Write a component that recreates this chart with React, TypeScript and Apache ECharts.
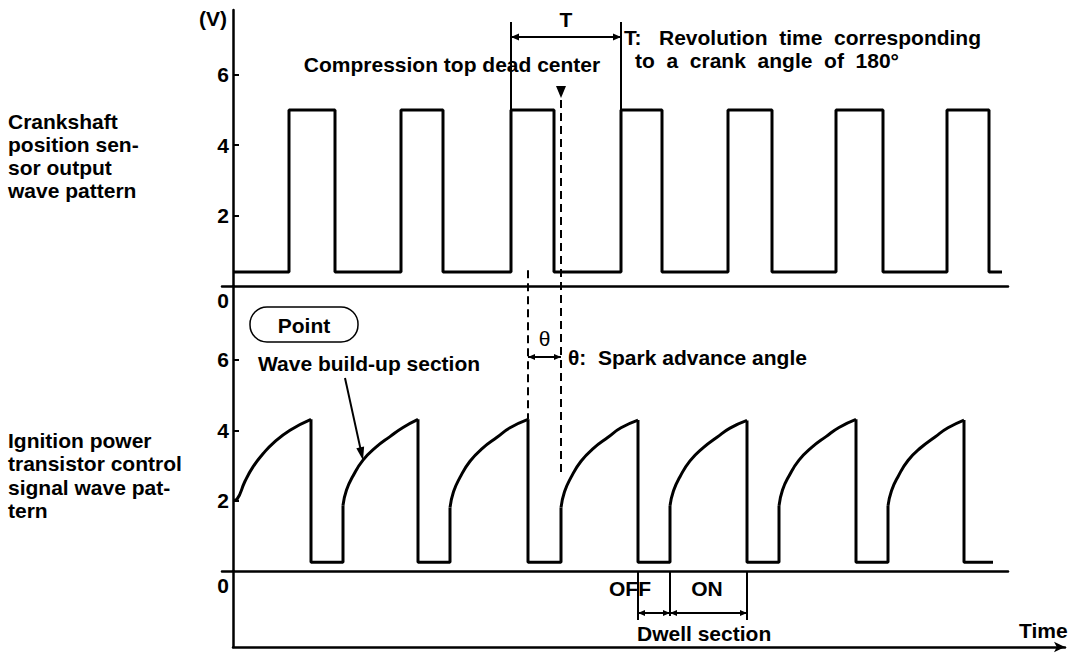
import React, { useEffect, useRef } from "react";
import * as echarts from "echarts";

// ---- Data (time in arbitrary units, volts) ----
const crankRiseT = [56, 168, 278, 388, 495, 603, 714];
const crankFallT = [102, 210, 321, 429, 539, 650, 756];
const crankEndT = 769;
const crankHighV = 5.0;
const crankLowV = 0.4;

const ignDropT = [78, 185, 295, 405, 514, 623, 731];
const ignRiseT = [110, 217, 328, 437, 546, 655];
const ignEndT = 760;
const ignLowV = 0.25;

const rampT = [
  [0, 4, 12, 20, 30, 40, 57, 78],
  [110, 113.5, 120, 130, 143, 157, 170, 185],
  [217, 220.5, 227, 237, 250, 264, 277, 295],
  [328, 331.5, 338, 348, 361, 375, 388, 405],
  [437, 440.5, 447, 457, 470, 484, 497, 514],
  [546, 549.5, 556, 566, 579, 593, 606, 623],
  [655, 658.5, 665, 675, 688, 702, 715, 731],
];
const rampV = [
  [2.0, 2.04, 2.55, 2.96, 3.33, 3.63, 4.0, 4.31],
  [1.87, 2.3, 2.7, 3.15, 3.52, 3.82, 4.08, 4.31],
  [1.8, 2.25, 2.66, 3.12, 3.5, 3.8, 4.07, 4.31],
  [1.8, 2.25, 2.66, 3.12, 3.5, 3.8, 4.07, 4.29],
  [1.85, 2.28, 2.68, 3.13, 3.5, 3.8, 4.06, 4.28],
  [1.85, 2.3, 2.7, 3.15, 3.52, 3.82, 4.08, 4.31],
  [1.85, 2.28, 2.68, 3.14, 3.51, 3.81, 4.07, 4.29],
];

const yLabelValues = [0, 2, 4, 6];
const yTickValues = [2, 4, 6];
const tdcT = 328; // compression top dead center
const dashTopV = 0.45;
const tdcDashEndV = 2.67;
const arrowTipT = 130;
const arrowTipV = 3.15;

const FONT = "Liberation Sans";
const BLACK = "#000";

function buildCrank() {
  const pts: number[][] = [[0, crankLowV]];
  crankRiseT.forEach((r, i) => {
    pts.push([r, crankLowV], [r, crankHighV], [crankFallT[i], crankHighV], [crankFallT[i], crankLowV]);
  });
  pts.push([crankEndT, crankLowV]);
  return pts;
}

function buildEdges() {
  return ignDropT.map((d, i) => {
    const peak = rampV[i][rampV[i].length - 1];
    const seg: number[][] = [[d, peak], [d, ignLowV]];
    if (i < ignRiseT.length) {
      seg.push([ignRiseT[i], ignLowV], [ignRiseT[i], rampV[i + 1][0]]);
    } else {
      seg.push([ignEndT, ignLowV]);
    }
    return seg;
  });
}

const labelStyle = { fontSize: 21, fontWeight: "bold" as const, fontFamily: FONT, color: BLACK };

function yAxisFor(grid: number, max: number, withName: boolean) {
  const ax: any = {
    gridIndex: grid,
    type: "value",
    min: 0,
    max,
    position: "left",
    offset: -11,
    axisLine: { show: true, onZero: false, lineStyle: { color: BLACK, width: 2.5 } },
    axisTick: { show: true, inside: true, length: 6, customValues: yTickValues, lineStyle: { color: BLACK, width: 2 } },
    axisLabel: {
      show: true,
      customValues: yLabelValues,
      margin: 4,
      formatter: (v: number) => (v === 0 ? "{z|0}" : "{n|" + v + "}"),
      rich: {
        z: { ...labelStyle, padding: [28, 0, 0, 0] },
        n: { ...labelStyle },
      },
    },
    splitLine: { show: false },
  };
  if (withName) {
    ax.name = "(V)";
    ax.nameLocation = "end";
    ax.nameGap = -8;
    ax.nameTextStyle = { ...labelStyle, align: "right", verticalAlign: "middle", padding: [0, 6, 0, 0] };
  }
  return ax;
}

function xAxisPlain(grid: number) {
  return {
    gridIndex: grid,
    type: "value",
    min: -11,
    max: 775,
    axisLine: { show: true, onZero: false, lineStyle: { color: BLACK, width: 2.5 } },
    axisTick: { show: false },
    axisLabel: { show: false },
    splitLine: { show: false },
  };
}

function buildOption() {
  const series: any[] = [
    {
      type: "line",
      xAxisIndex: 0,
      yAxisIndex: 0,
      data: buildCrank(),
      symbol: "none",
      lineStyle: { color: BLACK, width: 3 },
      silent: true,
    },
  ];
  rampT.forEach((ts, i) => {
    series.push({
      type: "line",
      xAxisIndex: 1,
      yAxisIndex: 1,
      data: ts.map((t, j) => [t, rampV[i][j]]),
      symbol: "none",
      smooth: 0.5,
      lineStyle: { color: BLACK, width: 3 },
      silent: true,
    });
  });
  buildEdges().forEach((seg) => {
    series.push({
      type: "line",
      xAxisIndex: 1,
      yAxisIndex: 1,
      data: seg,
      symbol: "none",
      lineStyle: { color: BLACK, width: 3 },
      silent: true,
    });
  });
  return {
    animation: false,
    backgroundColor: "#fff",
    grid: [
      { left: 222, top: 10, width: 786, height: 276 },
      { left: 222, top: 286, width: 786, height: 285 },
      { left: 233, top: 571, width: 832, height: 76 },
    ],
    xAxis: [
      xAxisPlain(0),
      xAxisPlain(1),
      {
        gridIndex: 2,
        type: "value",
        min: 0,
        max: 100,
        axisLine: { show: true, onZero: false, symbol: ["none", "arrow"], symbolSize: [8, 11], lineStyle: { color: BLACK, width: 2.5 } },
        axisTick: { show: false },
        axisLabel: { show: false },
        splitLine: { show: false },
        name: "Time",
        nameLocation: "end",
        nameGap: -46,
        nameTextStyle: { ...labelStyle, align: "left", verticalAlign: "bottom", padding: [0, 0, 6, 0] },
      },
    ],
    yAxis: [
      yAxisFor(0, 7.84, true),
      yAxisFor(1, 8.1, false),
      {
        gridIndex: 2,
        type: "value",
        min: 0,
        max: 1,
        axisLine: { show: true, onZero: false, lineStyle: { color: BLACK, width: 2.5 } },
        axisTick: { show: false },
        axisLabel: { show: false },
        splitLine: { show: false },
      },
    ],
    series,
  };
}

function ln(x1: number, y1: number, x2: number, y2: number, extra: any = {}) {
  return { type: "line", silent: true, shape: { x1, y1, x2, y2 }, style: { stroke: BLACK, lineWidth: 2, ...extra } };
}
function txt(t: string, x: number, y: number, align = "left", extra: any = {}) {
  return {
    type: "text",
    silent: true,
    x,
    y,
    style: { text: t, fill: BLACK, fontSize: 21, fontWeight: "bold", fontFamily: FONT, align, verticalAlign: "middle", ...extra },
  };
}
function head(tx: number, ty: number, ux: number, uy: number, len = 8, hw = 3.5) {
  const bx = tx - ux * len;
  const by = ty - uy * len;
  const px = -uy;
  const py = ux;
  return {
    type: "polygon",
    silent: true,
    shape: { points: [[tx, ty], [bx + px * hw, by + py * hw], [bx - px * hw, by - py * hw]] },
    style: { fill: BLACK },
  };
}

function buildGraphic(chart: any) {
  const P0 = (t: number, v: number) => chart.convertToPixel({ xAxisIndex: 0, yAxisIndex: 0 }, [t, v]);
  const P1 = (t: number, v: number) => chart.convertToPixel({ xAxisIndex: 1, yAxisIndex: 1 }, [t, v]);
  const g: any[] = [];

  // T bracket
  const xL = P0(crankRiseT[2], 0)[0];
  const xR = P0(crankRiseT[3], 0)[0];
  const yHigh = P0(0, crankHighV)[1];
  g.push(ln(xL, 22, xL, yHigh));
  g.push(ln(xR, 22, xR, yHigh));
  g.push(ln(xL, 37, xR, 37));
  g.push(head(xL, 37, -1, 0));
  g.push(head(xR, 37, 1, 0));
  g.push(txt("T", (xL + xR) / 2, 19, "center"));
  g.push(txt("T:   Revolution  time  corresponding", 624, 37));
  g.push(txt("to  a  crank  angle  of  180°", 635, 60));
  g.push(txt("Compression top dead center", 452, 64, "center"));

  // TDC marker
  const xT = P0(tdcT, 0)[0];
  g.push({ type: "polygon", silent: true, shape: { points: [[xT - 5, 86], [xT + 5, 86], [xT, 98]] }, style: { fill: BLACK } });
  g.push(ln(xT, 100, xT, P1(tdcT, tdcDashEndV)[1], { lineDash: [8, 5] }));

  // ignition drop dashed line
  const xD = P1(ignDropT[2], 0)[0];
  g.push(ln(xD, P0(ignDropT[2], dashTopV)[1], xD, P1(ignDropT[2], rampV[2][rampV[2].length - 1])[1], { lineDash: [8, 5] }));

  // theta
  g.push(txt("θ", (xD + xT) / 2, 338, "center", { fontWeight: "normal" }));
  g.push(ln(xD, 357, xT, 357));
  g.push(head(xD, 357, -1, 0, 7, 3));
  g.push(head(xT, 357, 1, 0, 7, 3));
  g.push(txt("θ:  Spark advance angle", 568, 357));

  // Point box
  g.push({ type: "rect", silent: true, shape: { x: 250, y: 307, width: 108, height: 35, r: 17 }, style: { fill: "none", stroke: BLACK, lineWidth: 1.5 } });
  g.push(txt("Point", 304, 325, "center"));
  g.push(txt("Wave build-up section", 258, 363));

  // arrow to curve
  const tip = P1(arrowTipT, arrowTipV);
  const sx = 345;
  const sy = 378;
  const dx = tip[0] - sx;
  const dy = tip[1] - sy;
  const d = Math.sqrt(dx * dx + dy * dy);
  g.push(ln(sx, sy, tip[0] - (dx / d) * 8, tip[1] - (dy / d) * 8, { lineWidth: 2 }));
  g.push(head(tip[0], tip[1], dx / d, dy / d, 13, 4));

  // Dwell bracket
  const xOff = P1(ignDropT[3], 0)[0];
  const xOn = P1(ignRiseT[3], 0)[0];
  const xEnd = P1(ignDropT[4], 0)[0];
  const y0 = P1(0, 0)[1];
  g.push(ln(xOff, y0, xOff, 620));
  g.push(ln(xOn, y0, xOn, 616));
  g.push(ln(xEnd, y0, xEnd, 620));
  g.push(ln(xOff, 613, xEnd, 613));
  g.push(head(xOff, 613, -1, 0, 7, 3));
  g.push(head(xOn, 613, 1, 0, 7, 3));
  g.push(head(xOn, 613, -1, 0, 7, 3));
  g.push(head(xEnd, 613, 1, 0, 7, 3));
  g.push(txt("OFF", 630, 588, "center"));
  g.push(txt("ON", 707, 588, "center"));
  g.push(txt("Dwell section", 637, 633));

  // left row labels
  g.push({
    type: "text",
    silent: true,
    x: 8,
    y: 110,
    style: { text: "Crankshaft\nposition sen-\nsor output\nwave pattern", fill: BLACK, fontSize: 21, fontWeight: "bold", fontFamily: FONT, lineHeight: 23, align: "left", verticalAlign: "top" },
  });
  g.push({
    type: "text",
    silent: true,
    x: 8,
    y: 429,
    style: { text: "Ignition power\ntransistor control\nsignal wave pat-\ntern", fill: BLACK, fontSize: 21, fontWeight: "bold", fontFamily: FONT, lineHeight: 23.3, align: "left", verticalAlign: "top" },
  });
  return g;
}

export default function App() {
  const ref = useRef<HTMLDivElement>(null);
  useEffect(() => {
    document.body.style.margin = "0";
    const chart = echarts.init(ref.current as HTMLDivElement, null, { renderer: "svg" });
    chart.setOption(buildOption());
    chart.setOption({ graphic: buildGraphic(chart) });
    return () => chart.dispose();
  }, []);
  return <div ref={ref} style={{ position: "fixed", left: 0, top: 0, width: 1088, height: 656 }} />;
}
